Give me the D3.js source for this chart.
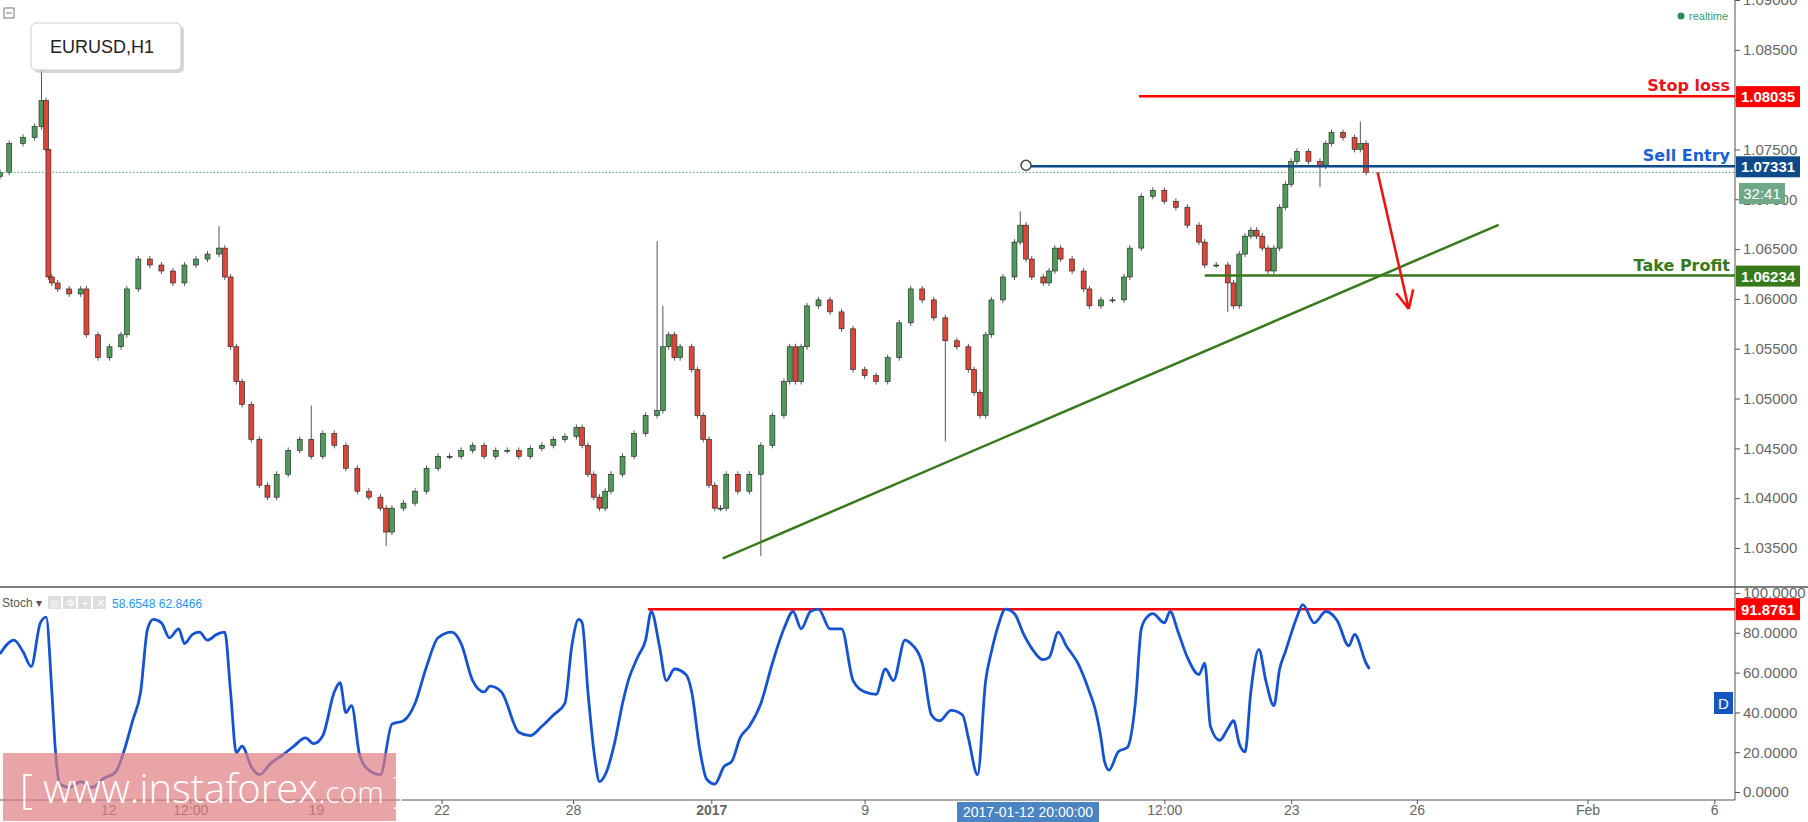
<!DOCTYPE html>
<html><head><meta charset="utf-8">
<script src="https://cdn.jsdelivr.net/npm/d3@7"></script>
<style>body{margin:0;background:#fff;font-family:Arial,"Liberation Sans",sans-serif}</style>
</head><body><svg id="c" width="1808" height="822"></svg>
<script>
// ---------- DATA ----------
const barPos = [0,8,20,30,36,40,42,45,50,60,70,75,85,95,105,110,120,130,140,150,160,170,180,190,195,200,205,210,218,225,232,240,250,260,270,280,290,300,310,320,330,335,340,350,360,370,380,390,400,410,420,430,440,450,460,470,480,490,500,505,510,515,520,525,530,540,550,560,570,575,580,585,590,600,605,610,615,620,625,630,640,650,660,670,680,685,690,695,700,710,720,730,740,750,760,770,780,790,800,810,820,830,840,845,850,855,860,870,880,885,890,895,905,910,915,920,930,940,945,955,965,975,980,990,1000,1010,1020,1030,1040,1045,1055,1065,1070,1075,1080,1085,1090,1095,1100,1105,1110,1115,1120,1125,1135,1145,1150,1155,1165,1175,1180,1185];
const closes = [1.0727,1.0756,1.0762,1.0773,1.0799,1.0750,1.0622,1.0616,1.0610,1.0605,1.0610,1.0564,1.0541,1.0552,1.0564,1.0610,1.0640,1.0634,1.0628,1.0616,1.0634,1.0640,1.0645,1.0651,1.0622,1.0552,1.0517,1.0494,1.0459,1.0413,1.0401,1.0424,1.0448,1.0459,1.0442,1.0465,1.0453,1.0430,1.0407,1.0401,1.0390,1.0366,1.0390,1.0395,1.0407,1.0430,1.0442,1.0442,1.0448,1.0453,1.0442,1.0448,1.0448,1.0442,1.0450,1.0453,1.0459,1.0462,1.0471,1.0453,1.0424,1.0401,1.0390,1.0407,1.0424,1.0442,1.0465,1.0483,1.0488,1.0552,1.0564,1.0541,1.0552,1.0529,1.0483,1.0459,1.0413,1.0390,1.0390,1.0424,1.0407,1.0424,1.0453,1.0483,1.0517,1.0552,1.0517,1.0552,1.0593,1.0599,1.0587,1.0570,1.0529,1.0523,1.0517,1.0541,1.0576,1.0610,1.0599,1.0581,1.0558,1.0552,1.0529,1.0506,1.0483,1.0564,1.0599,1.0622,1.0657,1.0674,1.0640,1.0622,1.0616,1.0628,1.0651,1.0640,1.0628,1.0610,1.0593,1.0599,1.0599,1.0622,1.0651,1.0703,1.0709,1.0698,1.0692,1.0674,1.0657,1.0634,1.0634,1.0616,1.0593,1.0645,1.0663,1.0669,1.0663,1.0651,1.0628,1.0651,1.0692,1.0715,1.0738,1.0748,1.0738,1.0733,1.0756,1.0767,1.0762,1.0750,1.0756,1.0727];
const spikes = {4:1.0830, 23:1.0670, 34:1.0490, 41:1.0355, 68:1.0655, 69:1.0590, 82:1.0345, 100:1.0460, 109:1.0685, 131:1.0590, 145:1.0715, 150:1.0775};
const stochPos = [0,12,20,27,35,40,45,48,52,60,70,80,90,100,108,115,122,128,133,140,147,155,160,167,173,180,188,195,200,205,210,218,225,235,245,255,265,272,280,290,295,300,305,312,320,330,340,350,360,370,380,392,400,410,420,425,435,450,460,470,480,490,496,502,505,510,516,520,525,533,540,545,553,560,565,572,578,585,595,600,607,613,620,628,635,642,650,660,670,680,688,695,703,710,720,730,740,750,760,768,775,785,790,800,808,815,825,835,840,848,855,860,866,872,880,888,895,905,910,918,925,935,945,950,955,958,962,970,978,985,990,995,1000,1010,1015,1022,1030,1040,1045,1050,1058,1065,1070,1075,1080,1085,1092,1098,1105,1110,1115,1125,1130,1140,1150,1160,1170,1175,1185,1188];
const stochVals = [69.4,76.3,70.5,63,85,87.9,50.3,21.4,4,2.3,5.2,2.3,6.9,9.8,21.4,35.8,50.3,82,86.7,85,77.5,82,74.6,79.2,80.3,76.3,79.2,80.3,50.3,19.7,23.1,12.7,8.7,14.5,18.5,23.1,27.2,24.3,28.3,50.3,54.9,39.9,43.4,18.5,11,8.7,34.1,35.8,44.5,63,77.5,80.3,74.6,56,50.3,53.2,50.3,30,28.3,33,38.7,44.5,73.4,86.7,85,50.3,16.8,5.2,8.7,24.3,44.5,56,67.6,76.3,90.7,73.4,56,61.8,59,50.3,21.4,6.4,4,12.7,15.6,27.2,33,44.5,64.7,82,90.7,82,90.7,91.9,82,82,56,50.3,49.1,61.8,56,76.3,74.6,64.7,38.7,35.8,41,38.7,27.2,8.7,56,70.5,83.8,91.9,89.6,79.2,72.2,66.5,67.6,80.3,73.4,64.7,50.3,41.6,27.2,15.6,11,20.2,22.5,45.7,82,87.9,89.6,85,90.7,80.3,67.6,59,64.7,33,26,31.8,35.8,24.3,20.2,50.3,71.7,56,43.4,61.8,70.5,87.9,94.2,85,90.7,86.1,73.4,79.2,64.7,61.8];
const priceTicks = [1.035,1.040,1.045,1.050,1.055,1.060,1.065,1.070,1.075,1.080,1.085,1.090];
const stochTicks = [0,20,40,60,80,100];
const timeTicks = [{l:"12",b:94},{l:"12:00",b:165},{l:"19",b:274},{l:"22",b:383},{l:"28",b:497},{l:"2017",b:617,bold:true},{l:"9",b:750},{l:"12:00",b:1010},{l:"23",b:1120},{l:"26",b:1229},{l:"Feb",b:1377},{l:"6",b:1487}];
const levels = [{name:"Stop loss",v:1.08035,from:988,col:"#ff0000",tcol:"#e8141c"},{name:"Sell Entry",v:1.07331,from:890,col:"#0d4a8a",tcol:"#1a5fd6"},{name:"Take Profit",v:1.06234,from:1045,col:"#367a1c",tcol:"#367a1c"}];
const trend = [{b:627,v:1.03395},{b:1300,v:1.06744}];
const arrow = [{b:1195,v:1.0727},{b:1222,v:1.0590}];
const lastPrice = 1.0727, stochLevel = 91.8761;

// ---------- SCALES ----------
const svg = d3.select("#c");
const AX = 1735, PB = 587, SB = 800;
const x = d3.scaleLinear().domain([0,1505]).range([0,AX]);
const y = d3.scaleLinear().domain([1.035,1.090]).range([548,0]);
const ys = d3.scaleLinear().domain([0,100]).range([792,593]);
const grey="#555";

svg.append("line").attr("x1",AX).attr("x2",AX).attr("y1",0).attr("y2",SB).attr("stroke",grey);
svg.append("line").attr("x1",0).attr("x2",1808).attr("y1",PB).attr("y2",PB).attr("stroke",grey).attr("stroke-width",1.5);
svg.append("line").attr("x1",0).attr("x2",AX).attr("y1",SB).attr("y2",SB).attr("stroke",grey);
const pa = svg.append("g").attr("transform",`translate(${AX},0)`).call(d3.axisRight(y).tickValues(priceTicks).tickFormat(d3.format(".5f")).tickSize(5));
const sa = svg.append("g").attr("transform",`translate(${AX},0)`).call(d3.axisRight(ys).tickValues(stochTicks).tickFormat(d3.format(".4f")).tickSize(5));
[pa,sa].forEach(a=>{a.select(".domain").remove();a.selectAll("line").attr("stroke",grey);a.selectAll("text").attr("fill","#666").attr("font-size",15).attr("font-family","Arial,Liberation Sans");});
const ta = svg.append("g").attr("transform",`translate(0,${SB})`).call(d3.axisBottom(x).tickValues(timeTicks.map(t=>t.b)).tickFormat((d,i)=>timeTicks[i].l).tickSize(4));
ta.select(".domain").remove(); ta.selectAll("line").attr("stroke",grey);
ta.selectAll("text").attr("fill","#666").attr("font-size",14).attr("dy","0.55em").attr("font-weight",(d,i)=>timeTicks[i].bold?"bold":"normal");

const g = svg.append("g");
closes.forEach((c,i)=>{
  const o = i===0 ? c-0.0004 : closes[i-1];
  const hi = Math.max(o,c, spikes[i]&&spikes[i]>c?spikes[i]:0)+0.0003;
  const lo = Math.min(o,c, spikes[i]&&spikes[i]<c?spikes[i]:9)-0.0003;
  const cx = x(barPos[i]);
  g.append("line").attr("x1",cx).attr("x2",cx).attr("y1",y(hi)).attr("y2",y(lo)).attr("stroke","#555").attr("stroke-width",1);
  const top=y(Math.max(o,c)), bot=y(Math.min(o,c));
  g.append("rect").attr("x",cx-2.5).attr("width",5).attr("y",top).attr("height",Math.max(1,bot-top))
   .attr("fill",c>=o?"#4f9a5b":"#d9473a").attr("stroke","#222").attr("stroke-width",0.6);
});
svg.append("line").attr("x1",0).attr("x2",AX).attr("y1",y(lastPrice)).attr("y2",y(lastPrice)).attr("stroke","#4a9a6a").attr("stroke-dasharray","1.5,2");
svg.append("line").attr("x1",x(trend[0].b)).attr("y1",y(trend[0].v)).attr("x2",x(trend[1].b)).attr("y2",y(trend[1].v)).attr("stroke","#367a1c").attr("stroke-width",2.5);
svg.append("rect").attr("x",AX+1).attr("y",y(lastPrice)-7).attr("width",64).attr("height",10).attr("fill","#6fa889");
svg.append("rect").attr("x",1739).attr("y",183).attr("width",46).attr("height",21).attr("fill","#6fa889");
svg.append("text").attr("x",1762).attr("y",199).attr("text-anchor","middle").attr("fill","#fff").attr("font-size",15).text("32:41");
levels.forEach(L=>{
  svg.append("line").attr("x1",x(L.from)).attr("x2",AX).attr("y1",y(L.v)).attr("y2",y(L.v)).attr("stroke",L.col).attr("stroke-width",2.5);
  svg.append("text").attr("x",AX-5).attr("y",y(L.v)-5).attr("text-anchor","end").attr("fill",L.tcol).attr("font-size",16).attr("font-weight","bold").attr("font-family","DejaVu Sans, sans-serif").text(L.name);
  svg.append("rect").attr("x",AX+1).attr("y",y(L.v)-10).attr("width",64).attr("height",21).attr("fill",L.col);
  svg.append("text").attr("x",AX+33).attr("y",y(L.v)+6).attr("text-anchor","middle").attr("fill","#fff").attr("font-size",15).attr("font-weight","bold").text(L.v.toFixed(5));
});
svg.append("circle").attr("cx",x(levels[1].from)).attr("cy",y(levels[1].v)-1).attr("r",5).attr("fill","#fff").attr("stroke","#444").attr("stroke-width",1.5);
const a0=[x(arrow[0].b),y(arrow[0].v)], a1=[x(arrow[1].b),y(arrow[1].v)];
svg.append("line").attr("x1",a0[0]).attr("y1",a0[1]).attr("x2",a1[0]).attr("y2",a1[1]).attr("stroke","#f01010").attr("stroke-width",2.5);
const ang=Math.atan2(a1[1]-a0[1],a1[0]-a0[0]);
[ang+Math.PI-0.45, ang+Math.PI+0.45].forEach(t=>svg.append("line").attr("x1",a1[0]).attr("y1",a1[1]).attr("x2",a1[0]+20*Math.cos(t)).attr("y2",a1[1]+20*Math.sin(t)).attr("stroke","#f01010").attr("stroke-width",2.5));

svg.append("line").attr("x1",x(562)).attr("x2",AX).attr("y1",ys(stochLevel)).attr("y2",ys(stochLevel)).attr("stroke","#ff0000").attr("stroke-width",2.5);
svg.append("path").datum(stochVals).attr("fill","none").attr("stroke","#1553d0").attr("stroke-width",2.8).attr("stroke-linejoin","round")
  .attr("d",d3.line().x((d,i)=>x(stochPos[i])).y(d=>ys(d)).curve(d3.curveMonotoneX));
svg.append("rect").attr("x",AX+1).attr("y",ys(stochLevel)-11).attr("width",64).attr("height",22).attr("fill","#ff0000");
svg.append("text").attr("x",AX+33).attr("y",ys(stochLevel)+6).attr("text-anchor","middle").attr("fill","#fff").attr("font-size",15).attr("font-weight","bold").text(stochLevel.toFixed(4));
svg.append("rect").attr("x",1714).attr("y",692).attr("width",19).attr("height",22).attr("fill","#1557c0");
svg.append("text").attr("x",1723.5).attr("y",709).attr("text-anchor","middle").attr("fill","#fff").attr("font-size",15).text("D");

svg.append("rect").attr("x",957).attr("y",802).attr("width",142).attr("height",20).attr("fill","#4a84c2");
svg.append("text").attr("x",1028).attr("y",817).attr("text-anchor","middle").attr("fill","#fff").attr("font-size",14).text("2017-01-12 20:00:00");
svg.append("circle").attr("cx",1681).attr("cy",16).attr("r",3.5).attr("fill","#2e8a5a");
svg.append("text").attr("x",1689).attr("y",20).attr("fill","#3a9a6a").attr("font-size",11).text("realtime");
svg.append("rect").attr("x",34).attr("y",26).attr("width",150).attr("height",47).attr("rx",5).attr("fill","#bbb").attr("opacity",0.6);
svg.append("rect").attr("x",31).attr("y",23).attr("width",150).attr("height",47).attr("rx",5).attr("fill","#fff").attr("stroke","#ccc");
svg.append("text").attr("x",50).attr("y",53).attr("font-size",18).attr("fill","#222").text("EURUSD,H1");
svg.append("rect").attr("x",4).attr("y",8).attr("width",10).attr("height",10).attr("fill","#fff").attr("stroke","#777");
svg.append("line").attr("x1",6).attr("x2",12).attr("y1",13).attr("y2",13).attr("stroke","#777");
svg.append("text").attr("x",2).attr("y",607).attr("font-size",12).attr("fill","#555").text("Stoch ▾");
[55,70,85,100].forEach((px,i)=>{svg.append("rect").attr("x",px-7).attr("y",596).attr("width",13).attr("height",13).attr("fill","#ddd");
  svg.append("text").attr("x",px).attr("y",607).attr("text-anchor","middle").attr("font-size",11).attr("fill","#fff").text(["◎","✲","+","✕"][i]);});
svg.append("text").attr("x",112).attr("y",608).attr("font-size",12).attr("fill","#2196f3").text("58.6548  62.8466");
svg.append("rect").attr("x",3).attr("y",753).attr("width",393).attr("height",68).attr("fill","#de7e80").attr("opacity",0.7);
const wt = svg.append("text").attr("x",20).attr("y",803).attr("fill","#fff").attr("font-size",40).attr("font-family","Open Sans, Lato, sans-serif").attr("font-weight","300");
wt.append("tspan").text("[  www.instaforex");
wt.append("tspan").attr("font-size",30).text(".com");
wt.append("tspan").attr("font-size",36).text(" ]");
</script></body></html>
